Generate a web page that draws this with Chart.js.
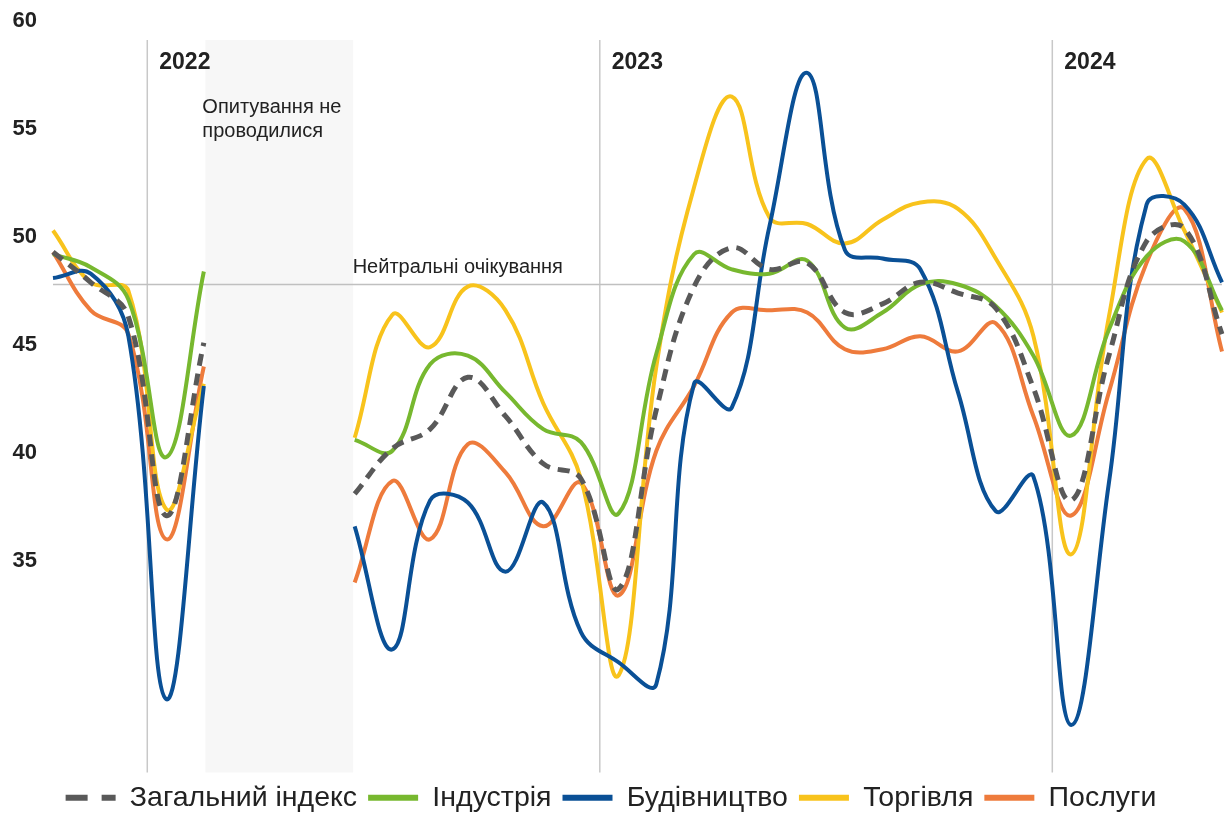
<!DOCTYPE html>
<html>
<head>
<meta charset="utf-8">
<script src="https://cdn.jsdelivr.net/npm/chart.js@4.4.1/dist/chart.umd.min.js"></script>
<style>
html,body{margin:0;padding:0;background:#ffffff;}
#wrap{width:1230px;height:814px;position:relative;}
</style>
</head>
<body>
<div id="wrap"><canvas id="c"></canvas></div>
<script>
// ---- data (monthly, 10.2021 – 05.2024; surveys not conducted 03–05.2022) ----
const months = ['10.2021','11.2021','12.2021','01.2022','02.2022','03.2022','04.2022','05.2022',
  '06.2022','07.2022','08.2022','09.2022','10.2022','11.2022','12.2022','01.2023','02.2023',
  '03.2023','04.2023','05.2023','06.2023','07.2023','08.2023','09.2023','10.2023','11.2023',
  '12.2023','01.2024','02.2024','03.2024','04.2024','05.2024'];

const seriesNames = ['Загальний індекс','Індустрія','Будівництво','Торгівля','Послуги'];

const generalIndex = [49.3,47.9,46.3,37.1,45.1,null,null,null,
  38.1,40.2,41.1,43.5,41.7,39.5,38.8,33.7,42.0,47.7,49.5,48.5,48.8,46.5,46.9,47.9,47.4,46.7,43.0,37.8,44.5,49.8,50.4,45.5];
const industry = [49.2,48.6,47.1,39.8,48.4,null,null,null,
  40.6,40.1,44.1,44.5,42.8,41.1,40.5,37.2,44.6,49.2,48.5,48.3,48.9,45.8,46.5,47.8,47.8,46.8,44.5,40.8,45.7,49.1,49.8,46.6];
const construction = [48.1,48.3,45.4,28.6,43.1,null,null,null,
  36.6,30.9,37.8,37.7,34.5,37.7,31.7,30.3,29.3,43.2,42.1,50.5,57.6,49.4,49.0,48.5,42.8,37.3,38.9,27.4,38.6,51.5,51.5,47.9];
const trade = [50.3,47.9,47.5,37.4,43.2,null,null,null,
  40.7,46.4,44.9,47.7,46.6,42.3,38.8,29.7,44.0,52.3,56.5,50.9,50.6,49.7,50.8,51.6,51.3,49.0,45.4,35.3,46.3,53.6,50.3,46.5];
const services = [49.3,46.6,45.5,36.0,44.0,null,null,null,
  34.0,38.7,36.0,40.4,39.1,36.6,38.6,33.4,40.1,43.1,46.5,46.6,46.5,44.8,44.8,45.4,44.7,46.0,41.7,37.1,42.8,48.8,51.3,44.7];

const yTickValues = [35,40,45,50,55,60];
const neutralLevel = 47.8;
const neutralLabel = 'Нейтральні очікування';
const gapNote = ['Опитування не','проводилися'];

// ---- styles ----
const colors = ['#595959','#77b82f','#0a5096','#f8c31c','#ee7b3c'];
const FONT = "'Liberation Sans', Arial, sans-serif";

const seriesData = [generalIndex, industry, construction, trade, services];

const datasets = seriesData.map((d, i) => ({
  label: seriesNames[i],
  data: d,
  borderColor: colors[i],
  backgroundColor: colors[i],
  borderWidth: i === 0 ? 5 : 4,
  borderDash: i === 0 ? [12, 8] : [],
  pointRadius: 0,
  pointHoverRadius: 0,
  tension: 0.4,
  spanGaps: false,
  fill: false
}));

// annotations: year boundaries, survey gap band, neutral line, notes
const annotations = {
  id: 'annotations',
  beforeDatasetsDraw(chart) {
    const {ctx, chartArea, scales} = chart;
    const x = scales.x, y = scales.y;
    const top = chartArea.top + 19;
    const bottom = chartArea.bottom;
    ctx.save();
    // gap band
    const nullIdx = generalIndex.map((v, i) => v === null ? i : -1).filter(i => i >= 0);
    if (nullIdx.length) {
      const bl = x.getPixelForValue(nullIdx[0] - 1) + 1.5;
      const br = x.getPixelForValue(nullIdx[nullIdx.length - 1] + 1) - 1.5;
      ctx.fillStyle = '#f7f7f7';
      ctx.fillRect(bl, top, br - bl, bottom - top);
      ctx.fillStyle = '#222222';
      ctx.font = "20px " + FONT;
      ctx.textAlign = 'left';
      ctx.textBaseline = 'middle';
      ctx.fillText(gapNote[0], bl - 3, chartArea.top + 86);
      ctx.fillText(gapNote[1], bl - 3, chartArea.top + 110);
    }
    // year boundaries
    ctx.strokeStyle = '#c8c8c8';
    ctx.lineWidth = 1.5;
    months.forEach((m, i) => {
      if (m.startsWith('01.')) {
        const px = x.getPixelForValue(i - 0.5);
        ctx.beginPath();
        ctx.moveTo(px, top);
        ctx.lineTo(px, bottom);
        ctx.stroke();
        ctx.fillStyle = '#222222';
        ctx.font = "bold 23px " + FONT;
        ctx.textAlign = 'left';
        ctx.textBaseline = 'middle';
        ctx.fillText(m.slice(3), px + 12, chartArea.top + 42);
      }
    });
    // neutral line
    const ny = y.getPixelForValue(neutralLevel);
    ctx.strokeStyle = '#c0c0c0';
    ctx.lineWidth = 1.5;
    ctx.beginPath();
    ctx.moveTo(chartArea.left, ny);
    ctx.lineTo(chartArea.right, ny);
    ctx.stroke();
    ctx.fillStyle = '#222222';
    ctx.font = "20px " + FONT;
    ctx.textAlign = 'left';
    ctx.textBaseline = 'middle';
    ctx.fillText(neutralLabel, x.getPixelForValue(8) - 2, ny - 17);
    ctx.restore();
  }
};

new Chart(document.getElementById('c'), {
  type: 'line',
  data: { labels: months, datasets },
  options: {
    responsive: true,
    maintainAspectRatio: false,
    animation: false,
    layout: { padding: { left: 0, right: 8, top: 21, bottom: -8 } },
    interaction: { mode: null },
    plugins: {
      tooltip: { enabled: false },
      legend: {
        position: 'bottom',
        labels: {
          font: { family: FONT, size: 28.5 },
          color: '#222222',
          usePointStyle: true,
          pointStyleWidth: 50,
          boxHeight: 6,
          padding: 11,
          generateLabels(chart) {
            return chart.data.datasets.map((ds, i) => ({
              text: ds.label,
              fillStyle: ds.borderColor,
              strokeStyle: ds.borderColor,
              lineWidth: 6,
              lineDash: i === 0 ? [22, 14] : [],
              lineCap: 'butt',
              pointStyle: 'line',
              hidden: false,
              datasetIndex: i,
              fontColor: '#222222'
            }));
          }
        }
      }
    },
    scales: {
      x: { display: false },
      y: {
        min: 25.2,
        max: 60,
        afterFit(scale) { scale.width = 53; scale.paddingTop = 0; scale.paddingBottom = 0; },
        afterBuildTicks(scale) { scale.ticks = yTickValues.map(v => ({ value: v })); },
        grid: { display: false, drawTicks: false },
        border: { display: false },
        ticks: {
          padding: 16,
          color: '#222222',
          font: { family: FONT, size: 22, weight: 'bold' }
        }
      }
    }
  },
  plugins: [annotations]
});
</script>
</body>
</html>
